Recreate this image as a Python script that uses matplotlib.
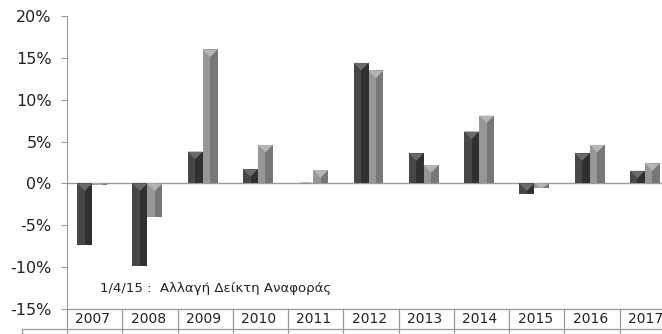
import numpy as np
import matplotlib.pyplot as plt

# yearly change, two series (dark / light)
years = ['2007', '2008', '2009', '2010', '2011', '2012', '2013', '2014', '2015', '2016', '2017']
dark_vals = [-7.3, -9.9, 3.8, 1.7, 0.1, 14.4, 3.6, 6.2, -1.3, 3.6, 1.5]
light_vals = [-0.2, -4.0, 16.0, 4.6, 1.6, 13.5, 2.2, 8.1, -0.6, 4.6, 2.4]
yticks = [20, 15, 10, 5, 0, -5, -10, -15]
note = '1/4/15 :  Αλλαγή Δείκτη Αναφοράς'

plt.rcParams['font.family'] = ['DejaVu Sans']

W, H = 662, 334
fig = plt.figure(figsize=(W / 100, H / 100), dpi=100)
# plot area runs a bit past the right edge of the image
ax = fig.add_axes([67 / W, 1 - 309 / H, 608 / W, 293 / H])

x = np.arange(len(years))
bw = 0.27
tip = 0.9


def bevel_bar(xc, v, c_left, c_right, c_top):
    # flat face, darker right half, lighter wedge on the upper edge
    ax.bar(xc, v, bw, color=c_left, edgecolor='none', zorder=2)
    ax.bar(xc + bw / 4, v, bw / 2, color=c_right, edgecolor='none', zorder=2)
    top = max(v, 0)
    d = min(abs(v), tip)
    ax.fill([xc - bw / 2, xc + bw / 2, xc], [top, top, top - d],
            color=c_top, edgecolor='none', zorder=3)


for i in range(len(years)):
    bevel_bar(x[i] - 0.18, dark_vals[i], '#474747', '#303030', '#6a6a6a')
    bevel_bar(x[i] + 0.09, light_vals[i], '#979797', '#777777', '#b5b5b5')

ax.axhline(0, color='#9a9a9a', lw=1.0, zorder=1)

ax.set_xlim(-0.5, len(years) - 0.5)
ax.set_ylim(-15, 20)
ax.set_yticks(yticks)
ax.set_yticklabels([f'{t}%' for t in yticks], fontsize=11.5, color='#222222')
ax.tick_params(axis='y', length=4, width=0.8, color='#999999', pad=7)
ax.set_xticks([])

for s in ['top', 'right', 'bottom']:
    ax.spines[s].set_visible(False)
ax.spines['left'].set_color('#999999')

# year row underneath the plot
tr = ax.get_xaxis_transform()
row = 20 / 293
ax.plot([-0.5, len(years) - 0.5], [0, 0], transform=tr, color='#999999',
        lw=0.9, clip_on=False)
ax.plot([-0.5 - 45 / 55.3, len(years) - 0.5], [-row, -row], transform=tr,
        color='#999999', lw=0.9, clip_on=False)
for i in range(len(years) + 1):
    ax.plot([i - 0.5, i - 0.5], [0, -0.1], transform=tr, color='#999999',
            lw=0.9, clip_on=False)
ax.plot([-0.5 - 45 / 55.3] * 2, [-row, -0.1], transform=tr, color='#999999',
        lw=0.9, clip_on=False)
for i, yr in enumerate(years):
    ax.text(x[i] - 0.03, -row / 2, yr, transform=tr, ha='center', va='center',
            fontsize=10, color='#222222')

ax.text(0.1, -12.5, note, fontsize=9.5, color='#222222', va='center', ha='left')

fig.savefig('out.png', dpi=100)
